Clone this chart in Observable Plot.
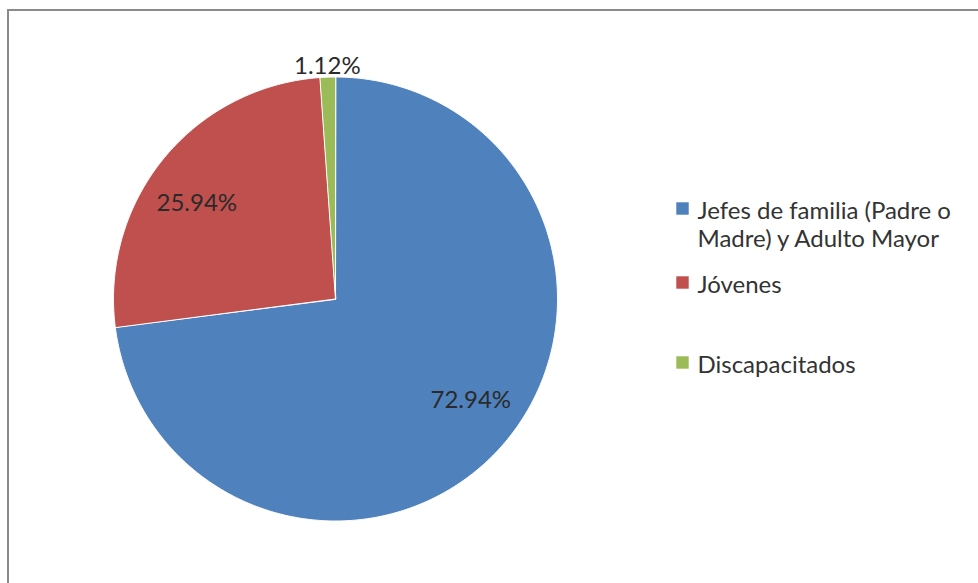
<!DOCTYPE html>
<html>
<head>
<meta charset="utf-8">
<script src="https://cdn.jsdelivr.net/npm/d3@7"></script>
<script src="https://cdn.jsdelivr.net/npm/@observablehq/plot@0.6"></script>
<style>
  html, body { margin: 0; padding: 0; background: #fff; }
  #wrap { position: relative; width: 978px; height: 583px; overflow: hidden; }
  #frame { position: absolute; left: 7px; top: 9px; width: 1100px; height: 700px;
           border: 2px solid #8a8a8a; box-sizing: border-box; pointer-events: none; }
  #chart { position: absolute; left: 0; top: 0; }
</style>
</head>
<body>
<div id="wrap"><div id="chart"></div><div id="frame"></div></div>
<script>
// ---- data ----
const categories = ["Jefes de familia (Padre o\nMadre) y Adulto Mayor", "Jóvenes", "Discapacitados"];
const values = [72.94, 25.94, 1.12];
const labels = ["72.94%", "25.94%", "1.12%"];
const colors = ["#4F81BD", "#C0504D", "#9BBB59"];

// ---- layout ----
const W = 978, H = 583;
const cx = 335, cy = 298.5, R = 222;
const font = "Lato, 'Open Sans', sans-serif";
const labelSize = 24, legendSize = 24;
const legend = {x: 675, sw: 14, tx: 697, ys: [208, 282, 362], lineH: 28};
const insideShift = -0.08; // Excel nudges inside labels slightly

const pie = d3.pie().sort(null).value(d => d)(values);
const pt = (a, r) => [cx + r * Math.sin(a), cy - r * Math.cos(a)];

const slicePts = [];
pie.forEach((p, i) => {
  slicePts.push({k: i, x: cx, y: cy});
  const n = Math.max(2, Math.ceil((p.endAngle - p.startAngle) / 0.01));
  for (let j = 0; j <= n; j++) {
    const a = p.startAngle + (p.endAngle - p.startAngle) * j / n;
    const [x, y] = pt(a, R);
    slicePts.push({k: i, x, y});
  }
});

const labelData = pie.map((p, i) => {
  const mid = (p.startAngle + p.endAngle) / 2;
  const outside = values[i] < 5;
  const [x, y] = outside ? pt(mid, R * 1.05) : pt(mid + insideShift, R * 0.76);
  return {x, y, text: labels[i]};
});

const legendData = categories.map((c, i) => ({
  x: legend.x + legend.sw / 2, tx: legend.tx, y: legend.ys[i], text: c, color: colors[i]
}));

const chart = Plot.plot({
  width: W, height: H,
  margin: 0,
  x: {domain: [0, W], range: [0, W], axis: null},
  y: {domain: [0, H], range: [0, H], axis: null},
  style: {fontFamily: font, background: "transparent"},
  marks: [
    Plot.line(slicePts, {x: "x", y: "y", z: "k", fill: d => colors[d.k], stroke: "white",
      strokeWidth: 1, curve: "linear-closed", strokeLinejoin: "round"}),
    Plot.text(labelData, {x: "x", y: "y", text: "text", fontSize: labelSize, fill: "#2a2a2a",
      textAnchor: "middle", lineAnchor: "middle"}),
    Plot.dot(legendData, {x: "x", y: "y", symbol: "square", r: legend.sw / 2 * 0.886 * 1.13,
      fill: "color", stroke: null}),
    Plot.text(legendData, {x: "tx", y: "y", text: "text", fontSize: legendSize, fill: "#333",
      textAnchor: "start", lineAnchor: "top", dy: 8 - 0.71 * legendSize,
      lineHeight: legend.lineH / legendSize})
  ]
});
document.getElementById("chart").appendChild(chart);
</script>
</body>
</html>
